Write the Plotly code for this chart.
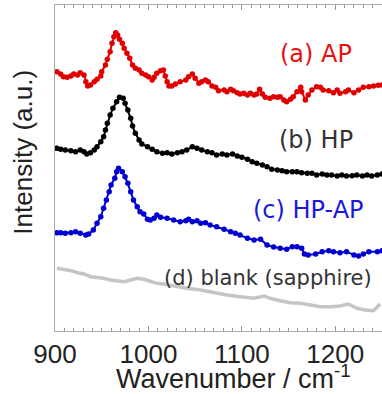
import plotly.graph_objects as go

# ---- data (wavenumber / cm-1, intensity a.u.) ----
wn_a = [902, 906, 909, 913, 917, 920, 924, 927, 931, 933, 935, 938, 942, 945, 949, 950, 954, 956, 959, 961,
        963, 965, 967, 969, 972, 974, 977, 980, 983, 986, 990, 993, 997, 1000, 1004, 1006, 1009, 1013, 1016, 1018,
        1020, 1022, 1025, 1029, 1034, 1040, 1043, 1047, 1050, 1054, 1057, 1061, 1064, 1068, 1072, 1075, 1081, 1084, 1088, 1091,
        1095, 1098, 1102, 1106, 1109, 1113, 1116, 1119, 1122, 1125, 1130, 1134, 1138, 1141, 1145, 1148, 1152, 1155, 1159, 1163,
        1164, 1168, 1171, 1175, 1180, 1184, 1187, 1193, 1198, 1202, 1205, 1211, 1214, 1220, 1225, 1230, 1236, 1241, 1246, 1250]
int_a = [259.3, 257, 254.3, 253.7, 255, 257, 256, 258.3, 256, 249.3, 245, 246, 249.3, 251.7, 255, 259.3, 266, 271.7, 279.3, 287.7,
         294.3, 298.3, 296, 291.7, 287.7, 282.7, 277.7, 272.7, 266, 262.7, 261, 257.7, 256, 254.3, 251, 253.7, 257.7, 260.3, 261, 255,
         249.3, 245, 245, 247, 249.3, 251, 254.3, 257, 252.7, 247.7, 249.3, 251, 249.3, 245, 243.7, 240.3, 241, 239.3, 241.7, 240.3,
         238.3, 237, 237.7, 236, 237.7, 236, 237, 241.7, 237, 233.7, 232.7, 234.3, 233.7, 234.3, 231, 229.3, 231.7, 234.3, 239.3, 243.7,
         239.3, 231, 236, 241, 244.3, 243.7, 241, 240.3, 238.3, 241, 237.7, 239.3, 241, 238.3, 241, 243.7, 244.3, 245, 245.7, 246]

wn_b = [902, 906, 911, 917, 922, 927, 931, 934, 938, 942, 945, 949, 952, 954, 956, 959, 962, 966, 969, 973,
        975, 978, 981, 983, 986, 990, 993, 999, 1004, 1009, 1015, 1020, 1025, 1031, 1036, 1041, 1047, 1052, 1057, 1063,
        1068, 1073, 1079, 1084, 1090, 1095, 1100, 1106, 1111, 1116, 1122, 1127, 1132, 1138, 1143, 1148, 1154, 1159, 1164, 1170,
        1175, 1180, 1186, 1191, 1196, 1202, 1207, 1212, 1218, 1223, 1229, 1234, 1239, 1245, 1250]
int_b = [182.7, 181.7, 181, 180.3, 179.3, 181, 179.3, 177, 178.3, 181, 184.3, 189.3, 194.3, 201, 207.7, 216, 222.7, 229.3, 233.7, 232.7,
         227.7, 221, 212.7, 205, 197.7, 191, 187, 184.3, 181.7, 179.3, 177.7, 178.3, 177, 178.3, 179.3, 181, 184.3, 182.7, 181, 179.3,
         178.3, 176, 177, 176, 177, 175, 173.7, 171.7, 169.3, 167.7, 166, 164.3, 161.7, 161, 160.3, 159.3, 159.3, 159.3, 158.3, 157.7,
         157.7, 156, 157, 156, 156, 155, 156, 155, 155.3, 156, 155, 156, 155, 156, 157]

wn_c = [902, 906, 911, 917, 922, 927, 933, 936, 941, 945, 949, 952, 955, 958, 960, 964, 966, 968, 972, 975,
        978, 981, 984, 988, 991, 995, 999, 1002, 1006, 1009, 1013, 1020, 1027, 1034, 1040, 1043, 1047, 1052, 1056, 1061,
        1066, 1073, 1081, 1088, 1093, 1098, 1106, 1113, 1120, 1127, 1134, 1141, 1148, 1154, 1159, 1164, 1167, 1171, 1179, 1186,
        1193, 1198, 1205, 1212, 1220, 1225, 1230, 1236, 1245, 1250]
int_c = [98.3, 98.3, 97.7, 98.3, 99.3, 97.7, 96, 97, 101, 107.7, 114.3, 122.7, 131, 139.3, 146, 152.7, 159.3, 162.7, 159.3, 154.3,
         147.7, 139.3, 131, 124.3, 119.3, 117, 111.7, 111, 112.7, 116, 113.7, 112.7, 111, 109.3, 110.3, 111.7, 109.3, 110.3, 107.7, 108.3,
         106, 104.3, 101.7, 99.3, 97.7, 96, 92.7, 91, 91.7, 86, 84, 82.7, 81.7, 84.3, 84.3, 82.7, 77, 76, 77, 79.3,
         80.3, 79.3, 78.3, 79.3, 76, 75, 77, 79.3, 79.3, 80.3]

wn_d = [902, 909, 917, 924, 931, 938, 945, 952, 959, 967, 974, 981, 988, 995, 1002, 1009, 1016, 1027, 1041, 1056,
        1070, 1084, 1098, 1113, 1124, 1130, 1141, 1152, 1163, 1173, 1184, 1195, 1205, 1214, 1223, 1232, 1241, 1248]
int_d = [62.7, 61.7, 60.3, 58.3, 57, 54.3, 53.7, 52.7, 51, 50.3, 49.3, 51, 52.7, 51.7, 49.3, 47.7, 47, 45, 42.7, 41,
         38.3, 36, 34.3, 32.7, 35, 32.7, 30.3, 28.3, 27.7, 26, 24.3, 24.3, 25, 27, 22.7, 21, 20.3, 27]

labels = ["(a) AP", "(b) HP", "(c) HP-AP", "(d) blank (sapphire)"]
x_ticks = [900, 1000, 1100, 1200]

fig = go.Figure()
fig.add_trace(go.Scatter(x=wn_d, y=int_d, mode="lines",
                         line=dict(color="rgba(150,150,150,0.55)", width=3.5), hoverinfo="skip"))
fig.add_trace(go.Scatter(x=wn_c, y=int_c, mode="lines+markers",
                         line=dict(color="#0000d0", width=2), marker=dict(color="#0000d0", size=5.5)))
fig.add_trace(go.Scatter(x=wn_b, y=int_b, mode="lines+markers",
                         line=dict(color="#000000", width=2), marker=dict(color="#000000", size=5.5)))
fig.add_trace(go.Scatter(x=wn_a, y=int_a, mode="lines+markers",
                         line=dict(color="#e00000", width=2), marker=dict(color="#e00000", size=5.5)))

ann_font = "DejaVu Sans"
common = dict(xref="paper", yref="paper", showarrow=False, xanchor="center", yanchor="middle")
fig.add_annotation(x=0.797, y=0.850, text=labels[0],
                   font=dict(family=ann_font, size=24, color="#e81010"), **common)
fig.add_annotation(x=0.797, y=0.586, text=labels[1],
                   font=dict(family=ann_font, size=24, color="#333333"), **common)
fig.add_annotation(x=0.774, y=0.371, text=labels[2],
                   font=dict(family=ann_font, size=24, color="#1a1ad8"), **common)
fig.add_annotation(x=0.650, y=0.163, text=labels[3],
                   font=dict(family=ann_font, size=21, color="#333333"), **common)

# axis titles as annotations (offset from the plot centre as in the reference)
fig.add_annotation(x=0.546, y=-0.141, text="Wavenumber / cm<sup>-1</sup>",
                   font=dict(family="Liberation Sans, Arial", size=27, color="#222222"), **common)
fig.add_annotation(x=-0.098, y=0.55, text="Intensity (a.u.)", textangle=-90,
                   font=dict(family="Liberation Sans, Arial", size=26, color="#222222"), **common)

fig.update_layout(
    width=382, height=394,
    margin=dict(l=55, r=0, t=5, b=63, autoexpand=False),
    paper_bgcolor="white", plot_bgcolor="white",
    showlegend=False,
    xaxis=dict(range=[900, 1250], tickvals=x_ticks, ticks="inside", ticklen=5, tickcolor="#999999",
               showline=True, linecolor="#aaaaaa", linewidth=1, mirror="ticks", showgrid=False, zeroline=False,
               automargin=False,
               minor=dict(ticks="inside", ticklen=3, dtick=10, tickcolor="#999999", showgrid=False),
               tickfont=dict(family="Liberation Sans, Arial", size=26, color="#222222")),
    yaxis=dict(range=[0, 326], showticklabels=False, ticks="", showline=True, linecolor="#aaaaaa",
               linewidth=1, mirror=False, showgrid=False, zeroline=False, automargin=False),
)

fig.write_html("out.html")
